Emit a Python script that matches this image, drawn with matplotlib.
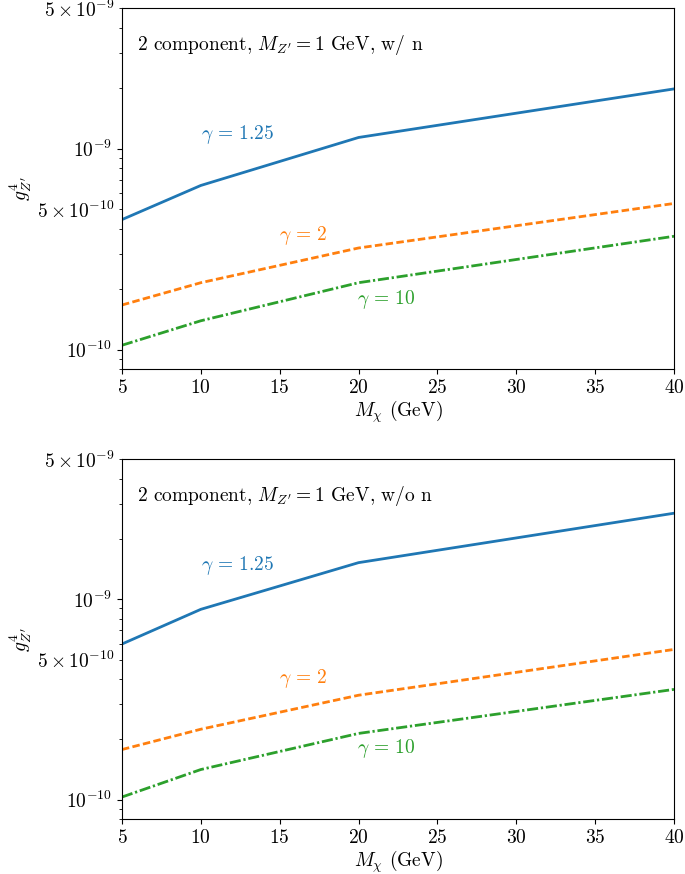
import numpy as np
import matplotlib
matplotlib.use("Agg")
import matplotlib.pyplot as plt
from matplotlib.ticker import FixedLocator, FuncFormatter

plt.rcParams['font.family'] = 'serif'
plt.rcParams['font.serif'] = ['cmr10']
plt.rcParams['mathtext.fontset'] = 'cm'
plt.rcParams['axes.unicode_minus'] = False
plt.rcParams['axes.formatter.use_mathtext'] = True
plt.rcParams['font.size'] = 14

# dark matter mass (GeV)
m_chi = [5, 10, 20, 40]

# top panel: with neutron
top_g125 = [4.43e-10, 6.55e-10, 1.135e-9, 1.98e-9]
top_g2 = [1.665e-10, 2.15e-10, 3.20e-10, 5.33e-10]
top_g10 = [1.05e-10, 1.39e-10, 2.15e-10, 3.66e-10]

# bottom panel: without neutron
bot_g125 = [5.98e-10, 8.91e-10, 1.524e-9, 2.69e-9]
bot_g2 = [1.778e-10, 2.246e-10, 3.32e-10, 5.62e-10]
bot_g10 = [1.03e-10, 1.413e-10, 2.14e-10, 3.55e-10]

titles = [r"2 component, $M_{Z'} = 1$ GeV, w/ n",
          r"2 component, $M_{Z'} = 1$ GeV, w/o n"]
gamma_labels = [r"$\gamma\,=\,1.25$", r"$\gamma\,=\,2$", r"$\gamma\,=\,10$"]
label_pos_top = [(10.0, 1.18e-9), (14.95, 3.68e-10), (19.9, 1.78e-10)]
label_pos_bot = [(10.0, 1.48e-9), (14.95, 4.03e-10), (19.9, 1.80e-10)]

panels = [
    (titles[0], [top_g125, top_g2, top_g10], label_pos_top),
    (titles[1], [bot_g125, bot_g2, bot_g10], label_pos_bot),
]

colors = ['C0', 'C1', 'C2']
dash_styles = [None, (2.7, 1.2), (4.0, 1.0, 0.8, 1.0)]

fig = plt.figure(figsize=(6.85, 8.74), dpi=100)
ax_top = fig.add_axes([0.178, 0.5778, 0.806, 0.4130])
ax_bot = fig.add_axes([0.178, 0.0629, 0.806, 0.4116])


def minor_fmt(v, pos):
    e = int(np.floor(np.log10(v) + 1e-9))
    m = v / 10.0**e
    if abs(m - 5) < 1e-6:
        return r'$5 \times 10^{%d}$' % e
    return ''


for ax, (title, series, lpos) in zip([ax_top, ax_bot], panels):
    for ys, c, ds in zip(series, colors, dash_styles):
        line, = ax.plot(m_chi, ys, color=c, linewidth=2)
        if ds is not None:
            line.set_dashes(ds)
    for (lx, ly), txt, c in zip(lpos, gamma_labels, colors):
        ax.text(lx, ly, txt, color=c, ha='left', va='center', fontsize=14)
    ax.set_yscale('log')
    ax.set_xlim(5, 40)
    ax.set_ylim(8e-11, 5e-9)
    ax.set_xticks([5, 10, 15, 20, 25, 30, 35, 40])
    ax.yaxis.set_major_locator(FixedLocator([1e-10, 1e-9]))
    minors = [s * 10.0**e for e in (-11, -10, -9) for s in range(2, 10)]
    ax.yaxis.set_minor_locator(FixedLocator(minors))
    ax.yaxis.set_minor_formatter(FuncFormatter(minor_fmt))
    ax.text(0.027, 0.897, title, transform=ax.transAxes, ha='left',
            va='center', fontsize=14)
    ax.set_xlabel(r'$M_\chi$ (GeV)', fontsize=14, labelpad=1)
    ax.set_ylabel(r"$g^4_{Z'}$", fontsize=14, labelpad=2)

fig.savefig('out.png', dpi=100)
